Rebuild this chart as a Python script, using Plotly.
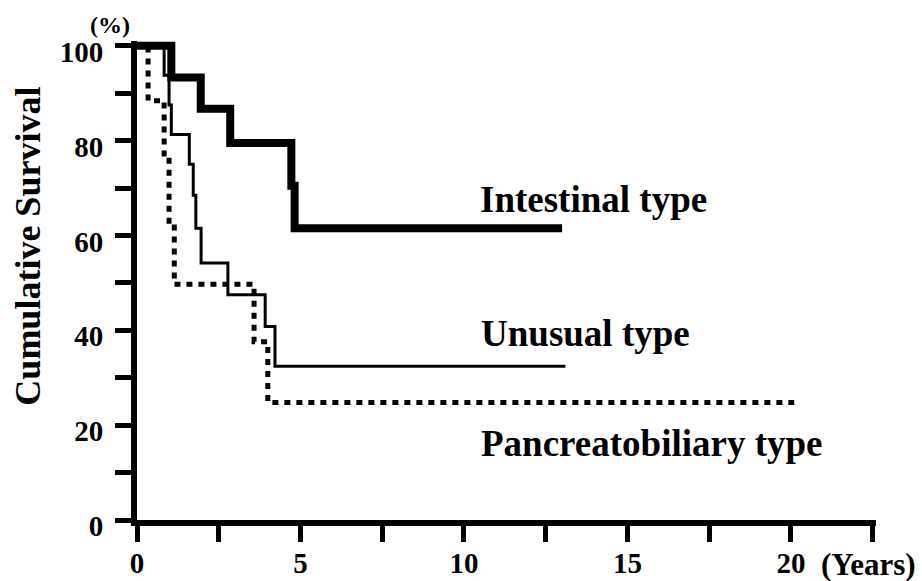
import plotly.graph_objects as go

# Kaplan-Meier style step data (years, cumulative survival %)
intestinal_t = [0, 1.05, 1.95, 2.85, 4.72, 4.82, 13.0]
intestinal_s = [100, 93.3, 86.7, 79.5, 70.5, 61.5, 61.5]

unusual_t = [0, 0.83, 0.98, 1.05, 1.6, 1.72, 1.8, 1.96, 2.78, 3.92, 4.22, 13.1]
unusual_s = [100, 93.8, 87.5, 81.3, 75.0, 68.5, 61.5, 54.2, 47.5, 40.8, 32.4, 32.4]

pancreato_t = [0, 0.34, 0.83, 0.98, 1.14, 3.58, 4.0, 20.1]
pancreato_s = [100, 88.4, 76.5, 63.0, 49.7, 37.6, 24.8, 24.8]

labels = ["Intestinal type", "Unusual type", "Pancreatobiliary type"]
label_x = [10.42, 10.47, 10.45]
label_y = [67.5, 39.4, 16.2]

x_ticks = [0, 2.5, 5, 7.5, 10, 12.5, 15, 17.5, 20, 22.5]
x_ticktext = ["0", "", "5", "", "10", "", "15", "", "20", ""]
y_ticks = [0, 10, 20, 30, 40, 50, 60, 70, 80, 90, 100]
y_ticktext = ["0", "", "20", "", "40", "", "60", "", "80", "", "100"]

FONT = "Liberation Serif, Times New Roman, serif"

fig = go.Figure()
fig.add_trace(go.Scatter(x=pancreato_t, y=pancreato_s, mode="lines",
                         line=dict(shape="hv", color="black", width=5, dash="6px,6px"),
                         showlegend=False))
fig.add_trace(go.Scatter(x=unusual_t, y=unusual_s, mode="lines",
                         line=dict(shape="hv", color="black", width=3),
                         showlegend=False))
fig.add_trace(go.Scatter(x=intestinal_t, y=intestinal_s, mode="lines",
                         line=dict(shape="hv", color="black", width=8),
                         showlegend=False))

for txt, lx, ly in zip(labels, label_x, label_y):
    fig.add_annotation(x=lx, y=ly, xref="x", yref="y", text=txt, showarrow=False,
                       xanchor="left", yanchor="middle",
                       font=dict(family=FONT, size=37, color="black", weight="bold"))

fig.add_annotation(x=-0.0365, y=1.034, xref="paper", yref="paper", text="(%)",
                   showarrow=False, xanchor="center", yanchor="middle",
                   font=dict(family=FONT, size=24, color="black", weight="bold"))
fig.add_annotation(x=-0.148, y=0.572, xref="paper", yref="paper", text="Cumulative Survival",
                   showarrow=False, textangle=-90, xanchor="center", yanchor="middle",
                   font=dict(family=FONT, size=36, color="black", weight="bold"))
fig.add_annotation(x=0.9905, y=-0.093, xref="paper", yref="paper", text="(Years)",
                   showarrow=False, xanchor="center", yanchor="middle",
                   font=dict(family=FONT, size=31, color="black", weight="bold"))

fig.update_xaxes(range=[0, 22.6], tickvals=x_ticks, ticktext=x_ticktext,
                 showline=True, linewidth=6, linecolor="black", automargin=False,
                 ticks="outside", ticklen=16, tickwidth=5, tickcolor="black",
                 showgrid=False, zeroline=False, ticklabelstandoff=-4,
                 tickfont=dict(family=FONT, size=29, color="black", weight="bold"))
fig.update_yaxes(range=[0, 101], tickvals=y_ticks, ticktext=y_ticktext,
                 showline=True, linewidth=6, linecolor="black", automargin=False,
                 ticks="outside", ticklen=16, tickwidth=5, tickcolor="black",
                 showgrid=False, zeroline=False, ticklabelstandoff=6, ticklabelshift=6,
                 tickfont=dict(family=FONT, size=29, color="black", weight="bold"))

fig.update_layout(width=922, height=581, autosize=False,
                  margin=dict(l=137, r=46, t=41, b=61, autoexpand=False),
                  plot_bgcolor="white", paper_bgcolor="white")

fig.write_html("out.html", config={"displayModeBar": False},
               post_script="document.body.style.margin='0';document.body.style.overflow='hidden';")
